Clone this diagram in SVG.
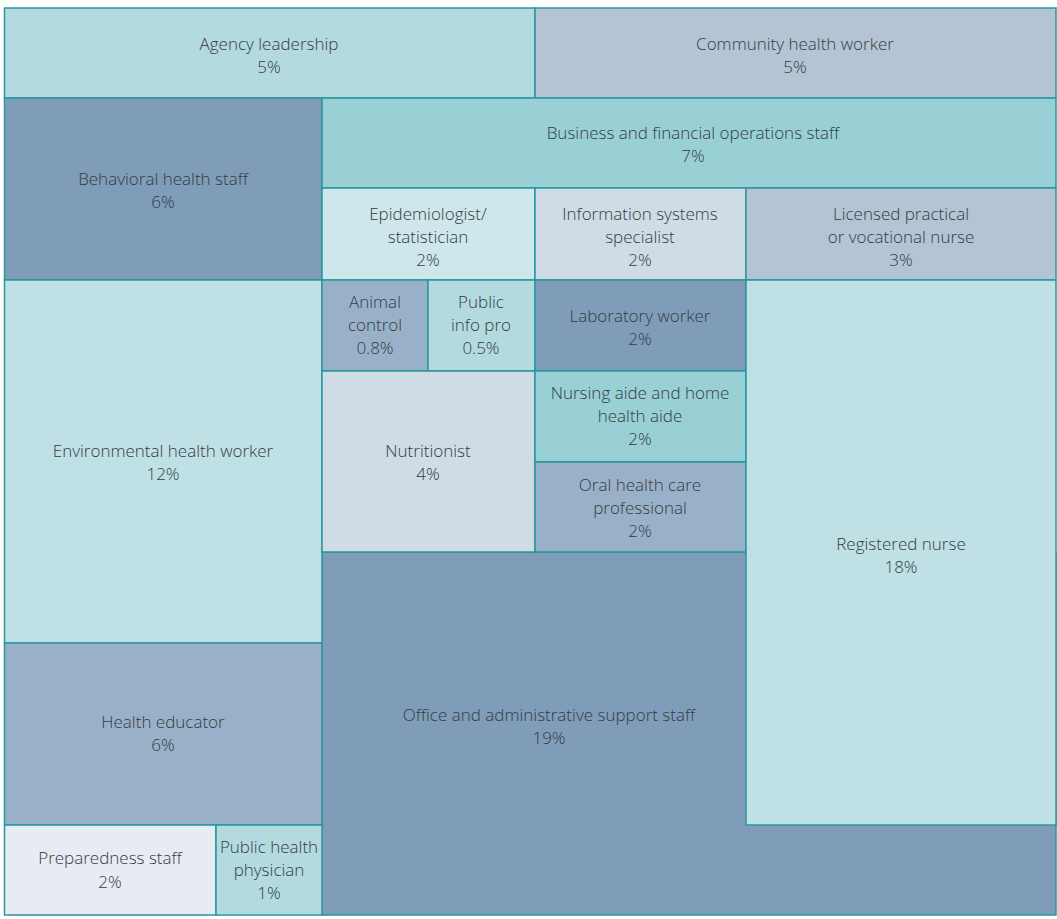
<svg xmlns="http://www.w3.org/2000/svg" width="1057" height="919" viewBox="0 0 1057 919">
<style>
rect{stroke:#2a969e;stroke-width:1.5}
text{font-family:"Open Sans","Noto Sans","Liberation Sans",sans-serif;font-weight:300;font-size:17px;fill:#353b42;text-anchor:middle}
.c1{fill:#b3dadf}.c2{fill:#b4c4d4}.c3{fill:#7f9db8}.c4{fill:#98d0d5}.c5{fill:#cde7ea}.c6{fill:#cfdbe5}.c7{fill:#bfe1e5}.c8{fill:#99b1c8}.c9{fill:#e7ebf2}
</style>
<rect x="0" y="0" width="1057" height="919" fill="#ffffff" style="stroke:none"/>
<g id="office"><rect class="c3" x="322" y="552" width="734" height="363"/><text x="549" y="721">Office and administrative support staff</text><text x="549" y="744">19%</text></g>
<g id="agency"><rect class="c1" x="4.5" y="8" width="530.5" height="90"/><text x="269" y="50">Agency leadership</text><text x="269" y="73">5%</text></g>
<g id="community"><rect class="c2" x="535" y="8" width="521" height="90"/><text x="795" y="50">Community health worker</text><text x="795" y="73">5%</text></g>
<g id="behavioral"><rect class="c3" x="4.5" y="98" width="317.5" height="182"/><text x="163" y="185">Behavioral health staff</text><text x="163" y="208">6%</text></g>
<g id="business"><rect class="c4" x="322" y="98" width="734" height="90"/><text x="693" y="139">Business and financial operations staff</text><text x="693" y="162">7%</text></g>
<g id="epi"><rect class="c5" x="322" y="188" width="213" height="92"/><text x="428" y="220">Epidemiologist/</text><text x="428" y="243">statistician</text><text x="428" y="266">2%</text></g>
<g id="infosys"><rect class="c6" x="535" y="188" width="211" height="92"/><text x="640" y="220">Information systems</text><text x="640" y="243">specialist</text><text x="640" y="266">2%</text></g>
<g id="lpn"><rect class="c2" x="746" y="188" width="310" height="92"/><text x="901" y="220">Licensed practical</text><text x="901" y="243">or vocational nurse</text><text x="901" y="266">3%</text></g>
<g id="env"><rect class="c7" x="4.5" y="280" width="317.5" height="363"/><text x="163" y="457">Environmental health worker</text><text x="163" y="480">12%</text></g>
<g id="animal"><rect class="c8" x="322" y="280" width="106" height="91"/><text x="375" y="308">Animal</text><text x="375" y="331">control</text><text x="375" y="354">0.8%</text></g>
<g id="pubinfo"><rect class="c1" x="428" y="280" width="107" height="91"/><text x="481" y="308">Public</text><text x="481" y="331">info pro</text><text x="481" y="354">0.5%</text></g>
<g id="nutri"><rect class="c6" x="322" y="371" width="213" height="181"/><text x="428" y="457">Nutritionist</text><text x="428" y="480">4%</text></g>
<g id="lab"><rect class="c3" x="535" y="280" width="211" height="91"/><text x="640" y="322">Laboratory worker</text><text x="640" y="345">2%</text></g>
<g id="nursingaide"><rect class="c4" x="535" y="371" width="211" height="91"/><text x="640" y="399">Nursing aide and home</text><text x="640" y="422">health aide</text><text x="640" y="445">2%</text></g>
<g id="oral"><rect class="c8" x="535" y="462" width="211" height="90"/><text x="640" y="491">Oral health care</text><text x="640" y="514">professional</text><text x="640" y="537">2%</text></g>
<g id="rn"><rect class="c7" x="746" y="280" width="310" height="545"/><text x="901" y="550">Registered nurse</text><text x="901" y="573">18%</text></g>
<g id="healthed"><rect class="c8" x="4.5" y="643" width="317.5" height="182"/><text x="163" y="728">Health educator</text><text x="163" y="751">6%</text></g>
<g id="prep"><rect class="c9" x="4.5" y="825" width="211.5" height="90"/><text x="110" y="864">Preparedness staff</text><text x="110" y="888">2%</text></g>
<g id="phys"><rect class="c1" x="216" y="825" width="106" height="90"/><text x="269" y="853">Public health</text><text x="269" y="876">physician</text><text x="269" y="899">1%</text></g>
<g id="connectors"></g>
</svg>
